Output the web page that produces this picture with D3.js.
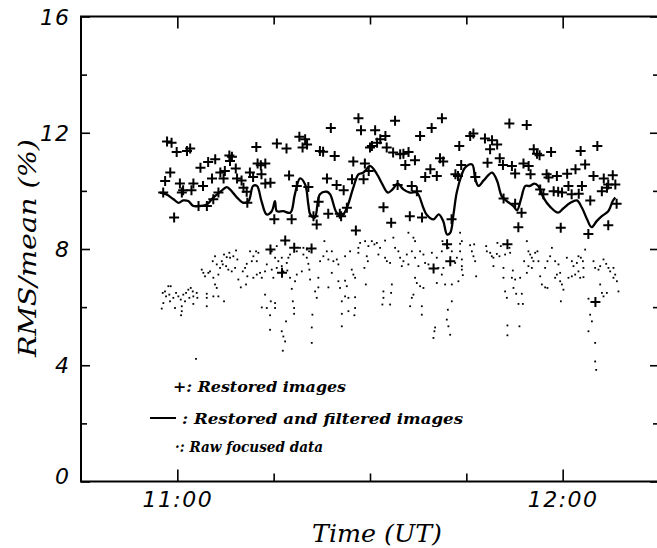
<!DOCTYPE html>
<html>
<head>
<meta charset="utf-8">
<script src="https://cdn.jsdelivr.net/npm/d3@7"></script>
<style>
  body { margin: 0; background: #fff; }
  svg { display: block; }
</style>
</head>
<body>
<svg id="chart" width="657" height="548"></svg>
<script>
// time in minutes after 11:00 UT, value in % (RMS/mean)
var restored = [
  [-1.6,11.70],[-0.9,11.66],[-0.1,11.34],[1.5,11.37],[2.0,11.46],[3.6,10.80],[4.8,10.99],[5.9,11.09],
  [8.1,11.22],[8.5,11.17],[8.2,11.03],[12.3,11.51],[15.5,11.63],[17.0,11.46],[19.0,11.86],[19.9,11.78],
  [19.5,11.49],[20.2,11.60],[-1.1,10.63],[-1.9,10.34],[-2.2,9.94],[0.4,10.25],[0.9,10.02],[0.7,9.94],
  [2.5,10.25],[2.2,10.02],[4.0,10.17],[5.4,10.43],[6.7,10.63],[7.2,10.43],[7.4,10.68],[9.1,10.77],
  [6.4,9.94],[9.3,10.43],[10.0,10.36],[10.3,10.11],[10.8,9.97],[11.3,10.63],[11.8,10.48],[13.1,10.57],
  [12.5,10.94],[13.0,10.88],[13.7,10.94],[13.7,10.25],[14.5,10.28],[17.4,10.53],[18.6,10.17],
  [3.3,9.48],[4.6,9.48],[5.6,9.71],[10.9,9.59],[-0.5,9.08],[15.1,9.02],[17.8,9.02],[16.8,8.29],
  [14.5,7.98],[18.2,8.04],[16.3,7.18],
  [28.2,12.50],[33.9,12.41],[41.2,12.50],[23.9,12.16],[28.6,12.09],[30.8,12.09],[32.4,11.89],[37.8,11.89],
  [39.6,12.16],[30.3,11.54],[31.1,11.66],[31.6,11.78],[30.0,11.49],[32.6,11.49],[33.6,11.32],[34.7,11.26],
  [35.2,11.28],[36.0,11.34],[35.5,10.89],[37.0,11.05],[22.2,11.37],[22.7,11.35],[24.5,11.20],[27.4,11.01],
  [29.2,10.94],[29.8,10.68],[29.0,10.40],[27.2,10.40],[43.9,11.54],[40.9,11.12],[41.4,11.01],[44.2,10.89],
  [39.4,10.74],[38.6,10.48],[40.4,10.51],[43.3,10.57],[43.7,10.51],[23.3,10.43],[24.8,10.20],[25.9,10.02],
  [20.4,10.13],[34.3,10.20],[36.5,10.17],[37.3,9.99],[22.0,9.63],[23.5,9.21],[25.3,9.21],[26.4,9.42],
  [25.5,9.13],[32.1,9.44],[21.7,8.84],[21.2,9.13],[27.8,8.64],[33.3,8.90],[36.2,9.13],[38.1,9.08],
  [42.7,9.02],[42.0,8.16],[42.5,7.58],[20.9,8.02],[39.9,7.33],
  [51.7,12.32],[54.4,12.27],[45.6,11.89],[46.1,11.97],[47.9,11.80],[49.0,11.74],[49.8,11.60],[48.7,11.43],
  [55.5,11.43],[56.0,11.28],[56.4,11.23],[58.2,11.34],[62.8,11.37],[65.4,11.54],[48.3,10.97],[50.2,11.12],
  [50.7,10.89],[52.1,10.86],[53.9,10.94],[54.7,10.86],[52.6,10.60],[55.0,10.57],[63.5,10.91],[62.0,10.74],
  [60.7,10.59],[59.1,10.51],[57.5,10.57],[57.8,10.46],[64.8,10.51],[66.4,10.43],[67.8,10.54],[67.1,10.22],
  [68.2,10.22],[46.4,10.48],[56.5,10.05],[57.0,9.88],[58.6,9.99],[59.3,9.97],[59.9,9.94],[60.9,10.17],
  [61.4,9.88],[62.5,9.90],[63.0,10.17],[66.1,9.99],[66.9,10.11],[64.3,9.67],[68.4,9.56],[50.8,9.74],
  [52.6,9.56],[53.6,9.25],[53.1,8.75],[59.7,8.73],[67.1,8.82],[64.0,8.52],[51.4,8.16],[65.1,6.18]
];

var filtered = [
  [-2.7,9.94],[-1.7,9.88],[-0.6,9.71],[0.2,9.59],[0.9,9.67],[1.7,9.65],[2.5,9.48],[3.5,9.48],
  [4.6,9.53],[5.6,9.77],[6.7,9.97],[7.7,10.13],[8.2,10.05],[9.3,9.77],[10.3,9.59],[11.1,9.65],
  [11.8,10.17],[12.4,10.17],[13.1,9.65],[13.9,9.19],[14.7,9.30],[15.2,9.65],[15.5,9.30],[16.5,9.30],
  [17.6,9.25],[18.3,9.88],[19.1,10.43],[19.9,10.22],[20.4,9.53],[20.7,9.19],[21.4,9.08],[22.2,9.88],
  [23.3,9.97],[23.8,9.88],[24.8,9.25],[25.6,9.13],[26.4,9.42],[27.4,10.11],[28.2,10.57],[29.0,10.63],
  [30.0,10.86],[31.1,10.57],[31.8,10.28],[32.8,9.94],[33.5,10.05],[34.3,10.25],[35.2,10.05],[36.2,9.94],
  [37.3,9.94],[38.3,9.42],[38.8,9.19],[39.9,9.02],[40.7,9.19],[41.4,8.96],[42.0,8.50],[42.5,8.56],
  [43.0,9.19],[43.5,9.94],[44.3,10.57],[44.8,10.80],[45.9,10.91],[46.4,10.40],[46.9,10.17],[47.7,10.36],
  [49.0,10.63],[49.8,10.34],[50.5,9.82],[51.3,9.65],[52.3,9.48],[52.9,9.33],[53.5,9.71],[54.2,10.17],
  [54.9,10.17],[55.6,10.25],[56.2,10.17],[57.0,9.77],[58.1,9.44],[59.3,9.25],[60.1,9.40],[61.2,9.59],
  [62.2,9.67],[63.0,9.42],[63.8,9.02],[64.5,8.75],[65.3,8.96],[66.1,9.13],[67.1,9.30],[67.8,9.65],
  [68.2,9.77]
];

var raw = [
  [-2.27,6.49],[-1.92,6.54],[-1.40,6.72],[-1.03,6.72],[-1.76,6.37],[-1.25,6.43],[-0.62,6.32],[-0.20,6.49],
  [0.16,6.37],[0.53,6.26],[0.93,6.43],[1.36,6.49],[1.71,6.60],[2.09,6.66],[2.40,6.54],[1.87,6.32],
  [1.20,6.20],[0.69,6.03],[0.69,5.86],[0.58,5.72],[-0.36,5.97],[-1.14,6.20],[-2.18,6.14],[-2.43,5.95],
  [2.49,6.37],[3.02,6.49],[3.12,6.32],[2.49,6.11],[4.58,6.46],[4.58,6.32],[4.58,6.03],[2.91,4.22],
  [3.80,7.29],[4.05,7.18],[4.31,7.06],[4.83,7.18],[5.09,7.23],[5.51,7.58],[5.87,7.75],[6.14,7.47],
  [6.65,7.35],[6.92,7.58],[7.27,7.81],[7.69,7.72],[8.10,7.87],[8.21,7.70],[8.72,7.75],[9.14,7.95],
  [9.35,7.64],[8.99,7.35],[8.47,7.23],[7.94,7.29],[7.59,7.41],[7.07,7.47],[6.39,7.12],[5.61,7.01],
  [5.87,6.78],[6.14,6.66],[6.39,6.37],[5.61,6.37],[7.27,6.20],[9.50,6.95],[9.88,6.68],[10.19,7.23],
  [10.55,7.35],[10.81,7.49],[10.90,7.06],[10.70,6.78],[11.32,7.92],[11.59,7.58],[11.84,7.75],[12.26,7.92],
  [12.62,7.87],[12.37,7.58],[12.88,7.18],[12.37,7.12],[11.84,7.01],[13.15,7.01],[13.66,7.23],[13.93,7.47],
  [13.66,6.43],[13.93,5.97],[13.15,5.99],[14.55,6.20],[15.22,6.14],[15.22,5.97],[14.44,5.72],[14.44,5.22],
  [16.26,5.17],[16.51,4.99],[16.78,4.82],[16.42,4.50],[16.93,5.51],[17.98,6.20],[18.18,5.97],[18.18,5.77],
  [17.82,6.63],[17.55,7.01],[17.13,7.26],[17.04,7.52],[17.29,7.70],[17.55,7.81],[18.60,7.92],[19.11,8.04],
  [19.63,8.04],[20.16,7.98],[19.63,7.81],[20.16,7.70],[20.56,7.29],[19.38,7.23],[18.60,7.12],[18.33,6.89],
  [14.95,7.01],[14.70,7.29],[15.48,7.35],[15.73,7.58],[15.22,7.70],[14.70,7.92],[15.48,8.10],[16.26,7.70],
  [16.26,7.41],[16.51,7.23],
  [20.16,8.02],[20.51,7.92],[20.40,7.49],[20.67,6.95],[21.96,7.01],[22.23,7.58],[22.74,7.75],[22.90,8.27],
  [23.27,7.92],[23.52,7.64],[24.05,7.92],[24.30,7.58],[24.83,7.64],[25.08,7.47],[24.05,7.18],[23.52,6.68],
  [21.96,6.68],[21.45,6.54],[21.71,6.32],[21.03,5.74],[20.93,5.30],[20.93,4.77],[25.08,6.89],[25.34,6.66],
  [26.12,6.91],[26.39,6.72],[25.61,6.20],[26.12,6.37],[26.64,6.32],[27.68,6.34],[27.68,5.97],[27.57,5.72],
  [26.64,5.86],[25.61,5.77],[25.61,5.34],[27.16,7.29],[27.41,7.12],[26.12,7.75],[26.90,7.92],[28.19,8.04],
  [28.46,8.21],[28.19,7.87],[29.24,8.27],[29.75,8.10],[29.50,7.75],[29.66,7.58],[29.13,7.35],[30.28,8.27],
  [30.69,8.16],[31.06,8.21],[31.57,8.04],[31.31,7.81],[32.35,8.29],[32.35,7.70],[32.62,7.58],[33.64,8.39],
  [33.91,8.04],[34.42,7.92],[34.69,7.70],[35.20,7.58],[35.73,7.81],[35.98,8.56],[36.76,8.39],[37.02,8.27],
  [36.51,7.92],[37.02,7.70],[37.80,7.92],[38.32,7.81],[38.58,7.52],[37.54,7.41],[35.98,7.47],[34.95,7.41],
  [33.13,7.52],[33.40,6.78],[33.29,6.49],[32.09,6.54],[32.09,6.32],[33.13,6.09],[31.93,6.09],[29.35,6.78],
  [27.68,7.01],[37.02,7.01],[37.29,6.83],[37.80,6.72],[38.32,6.66],[36.76,6.43],[36.25,6.03],[38.07,6.03],
  [36.51,6.32],[38.07,5.74],[39.63,7.87],[40.40,7.70],[41.18,7.92],[41.70,8.16],[41.28,8.27],[42.21,8.04],
  [42.74,7.92],[43.52,7.70],[44.03,7.92],[44.30,7.64],[43.26,7.52],[41.43,7.35],[40.65,7.35],[39.10,7.47],
  [41.18,7.12],[40.40,6.83],[41.70,6.78],[42.74,6.78],[43.77,6.89],[44.03,8.56],[44.30,8.27],[42.74,6.20],
  [42.12,5.91],[41.96,5.57],[42.21,5.34],[42.48,5.05],[40.14,5.30],[40.03,5.17],[39.88,4.94],
  [44.03,8.18],[44.30,7.41],[44.30,7.29],[44.45,7.10],[45.59,8.13],[46.22,8.16],[45.86,7.92],[46.11,7.75],
  [46.37,7.58],[46.53,7.06],[48.09,8.10],[48.19,7.92],[48.71,7.87],[48.97,7.75],[49.22,7.70],[49.75,7.83],
  [50.16,7.75],[49.84,8.21],[50.37,8.10],[50.78,8.16],[49.22,7.41],[50.78,7.35],[51.04,7.81],[51.82,7.87],
  [51.71,8.04],[52.24,7.26],[52.09,7.01],[52.60,6.95],[52.34,6.66],[53.38,7.01],[50.78,7.01],[51.04,6.54],
  [51.31,6.32],[52.76,6.46],[53.64,6.46],[53.12,6.11],[53.80,6.11],[51.40,5.37],[51.40,5.03],[53.27,5.34],
  [54.42,8.27],[54.67,7.92],[54.94,7.81],[55.20,7.70],[55.72,7.87],[56.07,7.92],[56.23,7.58],[55.45,7.58],
  [54.67,7.41],[55.20,7.35],[54.42,7.18],[54.00,7.58],[56.50,7.06],[56.76,6.78],[57.27,6.68],[57.63,6.66],
  [57.27,7.35],[57.63,7.58],[58.05,7.75],[58.32,8.04],[58.83,7.58],[59.35,7.47],[59.61,7.18],[59.10,7.12],
  [58.83,7.01],[59.61,6.89],[59.88,6.78],[60.12,6.60],[59.72,6.20],[60.65,7.70],[61.43,7.58],[61.68,7.41],
  [62.21,7.52],[62.46,7.75],[62.83,7.70],[63.15,7.58],[63.50,7.98],[63.24,7.35],[62.46,7.23],[61.95,7.12],
  [61.43,7.06],[60.90,7.01],[62.73,7.01],[63.24,7.03],[64.80,7.58],[65.06,7.35],[65.58,7.29],[65.84,7.41],
  [66.36,7.64],[66.78,7.49],[67.13,7.35],[67.40,7.23],[67.91,7.35],[68.18,7.12],[67.91,7.01],[68.44,6.89],
  [68.69,6.54],[65.84,6.78],[66.11,6.49],[66.88,6.49],[66.36,6.37],[64.02,6.29],[64.28,5.74],[64.55,5.51],
  [64.02,5.17],[65.06,4.77],[65.06,4.13],[65.22,3.84]
];

var xMajor = [0, 60];
var xMajorLabels = ["11:00", "12:00"];
var xMinor = [15, 30, 45];
var yMajor = [0, 4, 8, 12, 16];
var yMinor = [2, 6, 10, 14];
var legendLabels = ["+: Restored images", ": Restored and filtered images", "\u00b7: Raw focused data"];

var chart = d3.select("#chart");
var x = d3.scaleLinear().domain([-15, 75]).range([81, 659]);
var y = d3.scaleLinear().domain([0, 16]).range([481.5, 16.5]);

var tickFont = "'DejaVu Sans', sans-serif";
var serif = "'DejaVu Serif', serif";

function styleAxis(g) {
  g.select(".domain").remove();
  g.selectAll(".tick line").attr("stroke", "#000").attr("stroke-width", 1.6);
  g.selectAll(".tick text")
    .style("font-family", tickFont).style("font-style", "italic")
    .style("font-size", "22px").attr("fill", "#000");
}

// bottom axis
chart.append("g").attr("transform", "translate(0," + y(0) + ")")
  .call(d3.axisBottom(x).tickValues(xMajor).tickSize(-12).tickPadding(10)
        .tickFormat(function(d, i) { return xMajorLabels[i]; }))
  .call(styleAxis)
  .selectAll(".tick text").style("letter-spacing", "1.5px");
chart.append("g").attr("transform", "translate(0," + y(0) + ")")
  .call(d3.axisBottom(x).tickValues(xMinor).tickSize(-8).tickFormat(""))
  .call(styleAxis);
// top axis
chart.append("g").attr("transform", "translate(0," + y(16) + ")")
  .call(d3.axisTop(x).tickValues(xMajor).tickSize(-12).tickFormat(""))
  .call(styleAxis);
chart.append("g").attr("transform", "translate(0," + y(16) + ")")
  .call(d3.axisTop(x).tickValues(xMinor).tickSize(-8).tickFormat(""))
  .call(styleAxis);
// left axis
chart.append("g").attr("transform", "translate(" + x(-15) + ",0)")
  .call(d3.axisLeft(y).tickValues(yMajor).tickSize(-9).tickPadding(11).tickFormat(d3.format("d")))
  .call(styleAxis)
  .selectAll(".tick text").attr("dy", function(d) { return d === 0 ? "0.1em" : "0.35em"; })
  .style("letter-spacing", "1px");
chart.append("g").attr("transform", "translate(" + x(-15) + ",0)")
  .call(d3.axisLeft(y).tickValues(yMinor).tickSize(-6).tickFormat(""))
  .call(styleAxis);
// right axis
chart.append("g").attr("transform", "translate(" + x(75) + ",0)")
  .call(d3.axisRight(y).tickValues(yMajor).tickSize(-9).tickFormat(""))
  .call(styleAxis);
chart.append("g").attr("transform", "translate(" + x(75) + ",0)")
  .call(d3.axisRight(y).tickValues(yMinor).tickSize(-6).tickFormat(""))
  .call(styleAxis);

// frame
chart.append("rect")
  .attr("x", x(-15)).attr("y", y(16))
  .attr("width", x(75) - x(-15)).attr("height", y(0) - y(16))
  .attr("fill", "none").attr("stroke", "#000").attr("stroke-width", 2);

// raw focused data
chart.append("g").selectAll("rect").data(raw).enter().append("rect")
  .attr("x", function(d) { return x(d[0]) - 0.9; })
  .attr("y", function(d) { return y(d[1]) - 0.9; })
  .attr("width", 1.8).attr("height", 1.8).attr("fill", "#000");

// restored and filtered
var line = d3.line()
  .x(function(d) { return x(d[0]); })
  .y(function(d) { return y(d[1]); })
  .curve(d3.curveCatmullRom);
chart.append("path").datum(filtered).attr("d", line)
  .attr("fill", "none").attr("stroke", "#000").attr("stroke-width", 2.3)
  .attr("stroke-linejoin", "round");

// restored images
chart.append("g").selectAll("path").data(restored).enter().append("path")
  .attr("transform", function(d) { return "translate(" + x(d[0]) + "," + y(d[1]) + ")"; })
  .attr("d", "M-5,0H5M0,-5V5")
  .attr("stroke", "#000").attr("stroke-width", 2);

// axis titles
chart.append("text").attr("x", 377).attr("y", 542)
  .attr("text-anchor", "middle").attr("textLength", 130).attr("lengthAdjust", "spacingAndGlyphs")
  .style("font-family", serif).style("font-style", "italic").style("font-size", "24px")
  .text("Time (UT)");
chart.append("text").attr("transform", "translate(36,248) rotate(-90)")
  .attr("text-anchor", "middle").attr("textLength", 218).attr("lengthAdjust", "spacingAndGlyphs")
  .style("font-family", serif).style("font-style", "italic").style("font-size", "24px")
  .text("RMS/mean (%)");

// legend
var legendX = [173, 182, 175];
var legendY = [392, 424, 452];
var legendW = [173, 281, 148];
chart.append("g").selectAll("text").data(legendLabels).enter().append("text")
  .attr("x", function(d, i) { return legendX[i]; })
  .attr("y", function(d, i) { return legendY[i]; })
  .attr("textLength", function(d, i) { return legendW[i]; })
  .attr("lengthAdjust", "spacingAndGlyphs")
  .style("font-family", serif).style("font-style", "italic").style("font-weight", "bold")
  .style("font-size", "15px")
  .text(function(d) { return d; });
chart.append("line").attr("x1", 150).attr("x2", 176).attr("y1", 418).attr("y2", 418)
  .attr("stroke", "#000").attr("stroke-width", 2);
</script>
</body>
</html>
